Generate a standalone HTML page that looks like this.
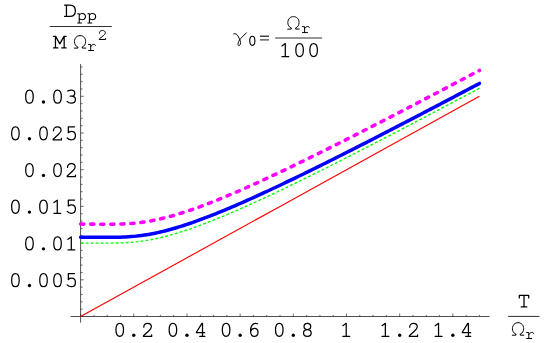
<!DOCTYPE html>
<html><head><meta charset="utf-8"><style>
html,body{margin:0;padding:0;background:#fff;}
svg{display:block;}
</style></head><body>
<svg width="554" height="343" viewBox="0 0 554 343">
<rect width="554" height="343" fill="#fff"/>
<g stroke="#303030" stroke-width="0.85" fill="none">
<path d="M70.5,316.50 H489.6 M80.60,322.6 V64"/>
<path d="M80.60,316.50 v-3.00 M93.89,316.50 v-1.60 M107.19,316.50 v-1.60 M120.48,316.50 v-1.60 M133.78,316.50 v-3.00 M147.07,316.50 v-1.60 M160.37,316.50 v-1.60 M173.66,316.50 v-1.60 M186.96,316.50 v-3.00 M200.25,316.50 v-1.60 M213.55,316.50 v-1.60 M226.84,316.50 v-1.60 M240.14,316.50 v-3.00 M253.43,316.50 v-1.60 M266.73,316.50 v-1.60 M280.02,316.50 v-1.60 M293.32,316.50 v-3.00 M306.62,316.50 v-1.60 M319.91,316.50 v-1.60 M333.20,316.50 v-1.60 M346.50,316.50 v-3.00 M359.79,316.50 v-1.60 M373.09,316.50 v-1.60 M386.38,316.50 v-1.60 M399.68,316.50 v-3.00 M412.98,316.50 v-1.60 M426.27,316.50 v-1.60 M439.56,316.50 v-1.60 M452.86,316.50 v-3.00 M466.15,316.50 v-1.60 M479.45,316.50 v-1.60 M80.60,316.50 h3.20 M80.60,309.16 h2.00 M80.60,301.82 h2.00 M80.60,294.48 h2.00 M80.60,287.14 h2.00 M80.60,279.80 h3.20 M80.60,272.46 h2.00 M80.60,265.12 h2.00 M80.60,257.78 h2.00 M80.60,250.44 h2.00 M80.60,243.10 h3.20 M80.60,235.76 h2.00 M80.60,228.42 h2.00 M80.60,221.08 h2.00 M80.60,213.74 h2.00 M80.60,206.40 h3.20 M80.60,199.06 h2.00 M80.60,191.72 h2.00 M80.60,184.38 h2.00 M80.60,177.04 h2.00 M80.60,169.70 h3.20 M80.60,162.36 h2.00 M80.60,155.02 h2.00 M80.60,147.68 h2.00 M80.60,140.34 h2.00 M80.60,133.00 h3.20 M80.60,125.66 h2.00 M80.60,118.32 h2.00 M80.60,110.98 h2.00 M80.60,103.64 h2.00 M80.60,96.30 h3.20 M80.60,88.96 h2.00 M80.60,81.62 h2.00 M80.60,74.28 h2.00 M80.60,66.94 h2.00" stroke-width="0.7"/>
<path d="M49.8,26.5 H111.8 M275.2,38.0 H322.2 M508.1,316.4 H539.4" stroke-width="1"/>
</g>
<path d="M80.60,316.50 L280.02,206.40 L479.45,96.30" stroke="#ff0000" stroke-width="1.15" fill="none"/>
<path d="M80.60,243.10 L83.26,243.10 L85.92,243.10 L88.58,243.10 L91.24,243.10 L93.89,243.10 L96.55,243.10 L99.21,243.10 L101.87,243.10 L104.53,243.10 L107.19,243.09 L109.85,243.08 L112.51,243.06 L115.17,243.03 L117.83,242.98 L120.48,242.91 L123.14,242.82 L125.80,242.69 L128.46,242.53 L131.12,242.34 L133.78,242.10 L136.44,241.83 L139.10,241.52 L141.76,241.18 L144.42,240.79 L147.07,240.36 L149.73,239.90 L152.39,239.39 L155.05,238.85 L157.71,238.28 L160.37,237.67 L163.03,237.03 L165.69,236.35 L168.35,235.65 L171.01,234.92 L173.66,234.16 L176.32,233.37 L178.98,232.55 L181.64,231.72 L184.30,230.86 L186.96,229.97 L189.62,229.07 L192.28,228.14 L194.94,227.20 L197.60,226.24 L200.25,225.26 L202.91,224.26 L205.57,223.25 L208.23,222.22 L210.89,221.18 L213.55,220.12 L216.21,219.05 L218.87,217.97 L221.53,216.88 L224.19,215.77 L226.84,214.65 L229.50,213.53 L232.16,212.39 L234.82,211.24 L237.48,210.08 L240.14,208.92 L242.80,207.74 L245.46,206.56 L248.12,205.37 L250.78,204.17 L253.43,202.96 L256.09,201.75 L258.75,200.53 L261.41,199.30 L264.07,198.07 L266.73,196.83 L269.39,195.59 L272.05,194.34 L274.71,193.08 L277.37,191.82 L280.02,190.55 L282.68,189.28 L285.34,188.01 L288.00,186.73 L290.66,185.44 L293.32,184.15 L295.98,182.86 L298.64,181.56 L301.30,180.26 L303.96,178.96 L306.62,177.65 L309.27,176.34 L311.93,175.02 L314.59,173.70 L317.25,172.38 L319.91,171.06 L322.57,169.73 L325.23,168.40 L327.89,167.07 L330.55,165.73 L333.20,164.39 L335.86,163.05 L338.52,161.71 L341.18,160.36 L343.84,159.02 L346.50,157.67 L349.16,156.31 L351.82,154.96 L354.48,153.60 L357.14,152.24 L359.79,150.88 L362.45,149.52 L365.11,148.15 L367.77,146.79 L370.43,145.42 L373.09,144.05 L375.75,142.68 L378.41,141.30 L381.07,139.93 L383.73,138.55 L386.38,137.17 L389.04,135.79 L391.70,134.41 L394.36,133.03 L397.02,131.65 L399.68,130.26 L402.34,128.88 L405.00,127.49 L407.66,126.10 L410.32,124.71 L412.98,123.32 L415.63,121.92 L418.29,120.53 L420.95,119.13 L423.61,117.74 L426.27,116.34 L428.93,114.94 L431.59,113.54 L434.25,112.14 L436.91,110.74 L439.56,109.34 L442.22,107.94 L444.88,106.53 L447.54,105.13 L450.20,103.72 L452.86,102.32 L455.52,100.91 L458.18,99.50 L460.84,98.09 L463.50,96.68 L466.15,95.27 L468.81,93.86 L471.47,92.45 L474.13,91.03 L476.79,89.62 L479.45,88.20" stroke="#00ff00" stroke-width="1.35" stroke-dasharray="2.9 2.103" fill="none"/>
<path d="M80.60,237.23 L83.26,237.24 L85.92,237.24 L88.58,237.25 L91.24,237.26 L93.89,237.26 L96.55,237.27 L99.21,237.28 L101.87,237.29 L104.53,237.29 L107.19,237.29 L109.85,237.29 L112.51,237.28 L115.17,237.26 L117.83,237.21 L120.48,237.15 L123.14,237.06 L125.80,236.94 L128.46,236.79 L131.12,236.60 L133.78,236.38 L136.44,236.12 L139.10,235.81 L141.76,235.47 L144.42,235.09 L147.07,234.67 L149.73,234.21 L152.39,233.72 L155.05,233.19 L157.71,232.62 L160.37,232.02 L163.03,231.38 L165.69,230.72 L168.35,230.02 L171.01,229.29 L173.66,228.54 L176.32,227.76 L178.98,226.95 L181.64,226.12 L184.30,225.27 L186.96,224.39 L189.62,223.50 L192.28,222.58 L194.94,221.64 L197.60,220.69 L200.25,219.72 L202.91,218.73 L205.57,217.72 L208.23,216.70 L210.89,215.67 L213.55,214.62 L216.21,213.56 L218.87,212.48 L221.53,211.39 L224.19,210.30 L226.84,209.19 L229.50,208.07 L232.16,206.93 L234.82,205.79 L237.48,204.64 L240.14,203.49 L242.80,202.32 L245.46,201.14 L248.12,199.96 L250.78,198.77 L253.43,197.57 L256.09,196.36 L258.75,195.15 L261.41,193.93 L264.07,192.70 L266.73,191.47 L269.39,190.24 L272.05,188.99 L274.71,187.74 L277.37,186.49 L280.02,185.23 L282.68,183.97 L285.34,182.70 L288.00,181.43 L290.66,180.15 L293.32,178.87 L295.98,177.58 L298.64,176.29 L301.30,175.00 L303.96,173.70 L306.62,172.40 L309.27,171.10 L311.93,169.79 L314.59,168.48 L317.25,167.16 L319.91,165.85 L322.57,164.53 L325.23,163.20 L327.89,161.88 L330.55,160.55 L333.20,159.22 L335.86,157.89 L338.52,156.55 L341.18,155.21 L343.84,153.87 L346.50,152.53 L349.16,151.18 L351.82,149.84 L354.48,148.49 L357.14,147.13 L359.79,145.78 L362.45,144.42 L365.11,143.07 L367.77,141.71 L370.43,140.35 L373.09,138.98 L375.75,137.62 L378.41,136.25 L381.07,134.89 L383.73,133.52 L386.38,132.15 L389.04,130.77 L391.70,129.40 L394.36,128.02 L397.02,126.65 L399.68,125.27 L402.34,123.89 L405.00,122.51 L407.66,121.13 L410.32,119.75 L412.98,118.36 L415.63,116.98 L418.29,115.59 L420.95,114.20 L423.61,112.81 L426.27,111.42 L428.93,110.03 L431.59,108.64 L434.25,107.25 L436.91,105.85 L439.56,104.46 L442.22,103.06 L444.88,101.67 L447.54,100.27 L450.20,98.87 L452.86,97.47 L455.52,96.07 L458.18,94.67 L460.84,93.27 L463.50,91.87 L466.15,90.46 L468.81,89.06 L471.47,87.65 L474.13,86.25 L476.79,84.84 L479.45,83.43" stroke="#0000ff" stroke-width="3.5" stroke-linecap="round" fill="none"/>
<path d="M80.60,224.09 L83.26,224.10 L85.92,224.11 L88.58,224.11 L91.24,224.12 L93.89,224.13 L96.55,224.14 L99.21,224.15 L101.87,224.15 L104.53,224.16 L107.19,224.16 L109.85,224.16 L112.51,224.15 L115.17,224.13 L117.83,224.09 L120.48,224.02 L123.14,223.93 L125.80,223.82 L128.46,223.67 L131.12,223.48 L133.78,223.26 L136.44,222.99 L139.10,222.69 L141.76,222.35 L144.42,221.97 L147.07,221.55 L149.73,221.09 L152.39,220.60 L155.05,220.07 L157.71,219.50 L160.37,218.90 L163.03,218.27 L165.69,217.60 L168.35,216.91 L171.01,216.18 L173.66,215.43 L176.32,214.65 L178.98,213.84 L181.64,213.01 L184.30,212.16 L186.96,211.28 L189.62,210.39 L192.28,209.47 L194.94,208.54 L197.60,207.58 L200.25,206.61 L202.91,205.62 L205.57,204.62 L208.23,203.60 L210.89,202.56 L213.55,201.52 L216.21,200.45 L218.87,199.38 L221.53,198.29 L224.19,197.20 L226.84,196.09 L229.50,194.97 L232.16,193.84 L234.82,192.70 L237.48,191.55 L240.14,190.39 L242.80,189.22 L245.46,188.05 L248.12,186.87 L250.78,185.67 L253.43,184.48 L256.09,183.27 L258.75,182.06 L261.41,180.84 L264.07,179.62 L266.73,178.39 L269.39,177.15 L272.05,175.91 L274.71,174.66 L277.37,173.41 L280.02,172.15 L282.68,170.88 L285.34,169.62 L288.00,168.34 L290.66,167.07 L293.32,165.79 L295.98,164.50 L298.64,163.21 L301.30,161.92 L303.96,160.62 L306.62,159.32 L309.27,158.02 L311.93,156.71 L314.59,155.40 L317.25,154.09 L319.91,152.78 L322.57,151.46 L325.23,150.13 L327.89,148.81 L330.55,147.48 L333.20,146.15 L335.86,144.82 L338.52,143.48 L341.18,142.15 L343.84,140.80 L346.50,139.46 L349.16,138.12 L351.82,136.77 L354.48,135.42 L357.14,134.07 L359.79,132.72 L362.45,131.36 L365.11,130.01 L367.77,128.65 L370.43,127.29 L373.09,125.93 L375.75,124.56 L378.41,123.20 L381.07,121.83 L383.73,120.46 L386.38,119.09 L389.04,117.72 L391.70,116.35 L394.36,114.97 L397.02,113.60 L399.68,112.22 L402.34,110.84 L405.00,109.46 L407.66,108.08 L410.32,106.70 L412.98,105.31 L415.63,103.93 L418.29,102.54 L420.95,101.16 L423.61,99.77 L426.27,98.38 L428.93,96.99 L431.59,95.60 L434.25,94.21 L436.91,92.81 L439.56,91.42 L442.22,90.02 L444.88,88.63 L447.54,87.23 L450.20,85.83 L452.86,84.44 L455.52,83.04 L458.18,81.64 L460.84,80.23 L463.50,78.83 L466.15,77.43 L468.81,76.03 L471.47,74.62 L474.13,73.22 L476.79,71.81 L479.45,70.40" stroke="#ff00ff" stroke-width="3.55" stroke-dasharray="3.2 6.855" stroke-linecap="round" fill="none"/>
<g fill="none" stroke="#000" stroke-linecap="round" stroke-linejoin="round">
<path d="M119.74,323.30 C117.43,323.30 115.97,325.80 115.97,329.84 C115.97,333.88 117.43,336.38 119.74,336.38 C122.05,336.38 123.51,333.88 123.51,329.84 C123.51,325.80 122.05,323.30 119.74,323.30 Z" stroke-width="1.25"/>
<circle cx="133.78" cy="335.22" r="1.68" fill="#000" stroke="none"/>
<path d="M143.77,327.19 C143.77,324.95 145.49,323.30 147.62,323.30 C149.75,323.30 151.37,324.74 151.37,326.76 C151.37,328.37 150.25,329.54 148.63,331.04 L143.46,335.73 L143.46,336.38 L151.67,336.38 L151.67,334.88" stroke-width="1.25"/>
<path d="M172.92,323.30 C170.61,323.30 169.15,325.80 169.15,329.84 C169.15,333.88 170.61,336.38 172.92,336.38 C175.23,336.38 176.69,333.88 176.69,329.84 C176.69,325.80 175.23,323.30 172.92,323.30 Z" stroke-width="1.25"/>
<circle cx="186.96" cy="335.22" r="1.68" fill="#000" stroke="none"/>
<path d="M202.53,336.38 L202.53,323.30 L201.92,323.30 L196.42,332.21 L196.42,332.64 L204.76,332.64 M199.78,336.38 L204.76,336.38" stroke-width="1.25"/>
<path d="M226.10,323.30 C223.79,323.30 222.33,325.80 222.33,329.84 C222.33,333.88 223.79,336.38 226.10,336.38 C228.41,336.38 229.87,333.88 229.87,329.84 C229.87,325.80 228.41,323.30 226.10,323.30 Z" stroke-width="1.25"/>
<circle cx="240.14" cy="335.22" r="1.68" fill="#000" stroke="none"/>
<path d="M257.58,323.77 C256.78,323.45 256.08,323.30 255.38,323.30 C252.58,323.30 250.58,326.12 250.58,330.72 C250.58,334.35 252.08,336.38 254.38,336.38 C256.38,336.38 257.98,334.71 257.98,332.27 C257.98,329.97 256.38,328.30 254.42,328.30 C252.68,328.30 251.18,329.54 250.62,331.36" stroke-width="1.25"/>
<path d="M279.28,323.30 C276.97,323.30 275.51,325.80 275.51,329.84 C275.51,333.88 276.97,336.38 279.28,336.38 C281.59,336.38 283.05,333.88 283.05,329.84 C283.05,325.80 281.59,323.30 279.28,323.30 Z" stroke-width="1.25"/>
<circle cx="293.32" cy="335.22" r="1.68" fill="#000" stroke="none"/>
<path d="M307.36,323.30 C305.45,323.30 304.04,324.63 304.04,326.44 C304.04,328.26 305.45,329.54 307.36,329.54 C309.27,329.54 310.68,328.26 310.68,326.44 C310.68,324.63 309.27,323.30 307.36,323.30 Z M307.36,329.54 C305.25,329.54 303.54,330.93 303.54,332.96 C303.54,334.99 305.25,336.38 307.36,336.38 C309.47,336.38 311.18,334.99 311.18,332.96 C311.18,330.93 309.47,329.54 307.36,329.54 Z" stroke-width="1.25"/>
<path d="M342.88,325.70 L346.22,323.30 L346.22,336.38 M342.88,336.38 L349.68,336.38" stroke-width="1.25"/>
<path d="M382.02,325.70 L385.36,323.30 L385.36,336.38 M382.02,336.38 L388.82,336.38" stroke-width="1.25"/>
<circle cx="399.68" cy="335.22" r="1.68" fill="#000" stroke="none"/>
<path d="M409.66,327.19 C409.66,324.95 411.39,323.30 413.52,323.30 C415.65,323.30 417.27,324.74 417.27,326.76 C417.27,328.37 416.15,329.54 414.53,331.04 L409.36,335.73 L409.36,336.38 L417.57,336.38 L417.57,334.88" stroke-width="1.25"/>
<path d="M435.20,325.70 L438.54,323.30 L438.54,336.38 M435.20,336.38 L442.00,336.38" stroke-width="1.25"/>
<circle cx="452.86" cy="335.22" r="1.68" fill="#000" stroke="none"/>
<path d="M468.43,336.38 L468.43,323.30 L467.82,323.30 L462.32,332.21 L462.32,332.64 L470.66,332.64 M465.68,336.38 L470.66,336.38" stroke-width="1.25"/>
<path d="M15.42,273.60 C13.11,273.60 11.65,276.10 11.65,280.14 C11.65,284.18 13.11,286.68 15.42,286.68 C17.73,286.68 19.19,284.18 19.19,280.14 C19.19,276.10 17.73,273.60 15.42,273.60 Z" stroke-width="1.25"/>
<circle cx="29.46" cy="285.52" r="1.68" fill="#000" stroke="none"/>
<path d="M43.50,273.60 C41.19,273.60 39.73,276.10 39.73,280.14 C39.73,284.18 41.19,286.68 43.50,286.68 C45.81,286.68 47.27,284.18 47.27,280.14 C47.27,276.10 45.81,273.60 43.50,273.60 Z" stroke-width="1.25"/>
<path d="M57.54,273.60 C55.23,273.60 53.77,276.10 53.77,280.14 C53.77,284.18 55.23,286.68 57.54,286.68 C59.85,286.68 61.31,284.18 61.31,280.14 C61.31,276.10 59.85,273.60 57.54,273.60 Z" stroke-width="1.25"/>
<path d="M74.53,273.60 L68.33,273.60 L68.33,279.52 C69.45,278.60 70.46,278.24 71.48,278.24 C73.71,278.24 75.44,279.95 75.44,282.40 C75.44,284.97 73.61,286.68 71.28,286.68 C69.65,286.68 68.23,286.03 67.21,284.80" stroke-width="1.25"/>
<path d="M29.46,236.90 C27.15,236.90 25.69,239.40 25.69,243.44 C25.69,247.48 27.15,249.97 29.46,249.97 C31.77,249.97 33.23,247.48 33.23,243.44 C33.23,239.40 31.77,236.90 29.46,236.90 Z" stroke-width="1.25"/>
<circle cx="43.50" cy="248.82" r="1.68" fill="#000" stroke="none"/>
<path d="M57.54,236.90 C55.23,236.90 53.77,239.40 53.77,243.44 C53.77,247.48 55.23,249.97 57.54,249.97 C59.85,249.97 61.31,247.48 61.31,243.44 C61.31,239.40 59.85,236.90 57.54,236.90 Z" stroke-width="1.25"/>
<path d="M67.96,239.30 L71.30,236.90 L71.30,249.97 M67.96,249.97 L74.76,249.97" stroke-width="1.25"/>
<path d="M15.42,200.20 C13.11,200.20 11.65,202.70 11.65,206.74 C11.65,210.78 13.11,213.28 15.42,213.28 C17.73,213.28 19.19,210.78 19.19,206.74 C19.19,202.70 17.73,200.20 15.42,200.20 Z" stroke-width="1.25"/>
<circle cx="29.46" cy="212.12" r="1.68" fill="#000" stroke="none"/>
<path d="M43.50,200.20 C41.19,200.20 39.73,202.70 39.73,206.74 C39.73,210.78 41.19,213.28 43.50,213.28 C45.81,213.28 47.27,210.78 47.27,206.74 C47.27,202.70 45.81,200.20 43.50,200.20 Z" stroke-width="1.25"/>
<path d="M53.92,202.60 L57.26,200.20 L57.26,213.28 M53.92,213.28 L60.72,213.28" stroke-width="1.25"/>
<path d="M74.53,200.20 L68.33,200.20 L68.33,206.12 C69.45,205.20 70.46,204.84 71.48,204.84 C73.71,204.84 75.44,206.55 75.44,209.00 C75.44,211.57 73.61,213.28 71.28,213.28 C69.65,213.28 68.23,212.63 67.21,211.40" stroke-width="1.25"/>
<path d="M29.46,163.50 C27.15,163.50 25.69,166.00 25.69,170.04 C25.69,174.08 27.15,176.57 29.46,176.57 C31.77,176.57 33.23,174.08 33.23,170.04 C33.23,166.00 31.77,163.50 29.46,163.50 Z" stroke-width="1.25"/>
<circle cx="43.50" cy="175.42" r="1.68" fill="#000" stroke="none"/>
<path d="M57.54,163.50 C55.23,163.50 53.77,166.00 53.77,170.04 C53.77,174.08 55.23,176.57 57.54,176.57 C59.85,176.57 61.31,174.08 61.31,170.04 C61.31,166.00 59.85,163.50 57.54,163.50 Z" stroke-width="1.25"/>
<path d="M67.53,167.39 C67.53,165.15 69.25,163.50 71.38,163.50 C73.51,163.50 75.13,164.94 75.13,166.96 C75.13,168.57 74.01,169.74 72.39,171.24 L67.22,175.93 L67.22,176.57 L75.43,176.57 L75.43,175.08" stroke-width="1.25"/>
<path d="M15.42,126.80 C13.11,126.80 11.65,129.30 11.65,133.34 C11.65,137.38 13.11,139.88 15.42,139.88 C17.73,139.88 19.19,137.38 19.19,133.34 C19.19,129.30 17.73,126.80 15.42,126.80 Z" stroke-width="1.25"/>
<circle cx="29.46" cy="138.72" r="1.68" fill="#000" stroke="none"/>
<path d="M43.50,126.80 C41.19,126.80 39.73,129.30 39.73,133.34 C39.73,137.38 41.19,139.88 43.50,139.88 C45.81,139.88 47.27,137.38 47.27,133.34 C47.27,129.30 45.81,126.80 43.50,126.80 Z" stroke-width="1.25"/>
<path d="M53.48,130.69 C53.48,128.45 55.21,126.80 57.34,126.80 C59.47,126.80 61.09,128.24 61.09,130.26 C61.09,131.87 59.97,133.04 58.35,134.54 L53.18,139.23 L53.18,139.88 L61.39,139.88 L61.39,138.38" stroke-width="1.25"/>
<path d="M74.53,126.80 L68.33,126.80 L68.33,132.72 C69.45,131.80 70.46,131.44 71.48,131.44 C73.71,131.44 75.44,133.15 75.44,135.60 C75.44,138.17 73.61,139.88 71.28,139.88 C69.65,139.88 68.23,139.23 67.21,138.00" stroke-width="1.25"/>
<path d="M29.46,90.10 C27.15,90.10 25.69,92.60 25.69,96.64 C25.69,100.68 27.15,103.18 29.46,103.18 C31.77,103.18 33.23,100.68 33.23,96.64 C33.23,92.60 31.77,90.10 29.46,90.10 Z" stroke-width="1.25"/>
<circle cx="43.50" cy="102.02" r="1.68" fill="#000" stroke="none"/>
<path d="M57.54,90.10 C55.23,90.10 53.77,92.60 53.77,96.64 C53.77,100.68 55.23,103.18 57.54,103.18 C59.85,103.18 61.31,100.68 61.31,96.64 C61.31,92.60 59.85,90.10 57.54,90.10 Z" stroke-width="1.25"/>
<path d="M67.71,91.00 C68.83,90.36 70.05,90.10 71.27,90.10 C73.31,90.10 74.73,91.32 74.73,93.14 C74.73,94.95 73.31,96.13 71.27,96.17 L70.16,96.17 M71.27,96.17 C73.62,96.23 75.45,97.52 75.45,99.54 C75.45,101.68 73.62,103.18 71.27,103.18 C69.65,103.18 68.22,102.58 67.10,101.36" stroke-width="1.25"/>
<path d="M64.56,5.02 L69.91,5.02 C73.16,5.02 75.36,7.19 75.36,10.76 C75.36,14.26 73.16,16.48 69.91,16.48 L64.56,16.48 M66.45,5.02 L66.45,16.48" stroke-width="1.25"/>
<path d="M77.71,13.69 L79.22,13.69 L79.22,23.04 M77.71,23.04 L81.53,23.04 M79.22,15.08 C79.94,14.04 80.96,13.52 82.11,13.52 C83.99,13.52 85.43,14.81 85.43,16.62 C85.43,18.41 83.99,19.72 82.11,19.72 C80.96,19.72 79.94,19.24 79.22,18.22" stroke-width="1.10"/>
<path d="M87.91,13.69 L89.42,13.69 L89.42,23.04 M87.91,23.04 L91.73,23.04 M89.42,15.08 C90.14,14.04 91.16,13.52 92.31,13.52 C94.19,13.52 95.63,14.81 95.63,16.62 C95.63,18.41 94.19,19.72 92.31,19.72 C91.16,19.72 90.14,19.24 89.42,18.22" stroke-width="1.10"/>
<path d="M53.54,36.42 L55.67,36.42 L59.82,43.87 L63.97,36.42 L66.10,36.42 M55.46,36.42 L55.46,47.88 M64.18,36.42 L64.18,47.88 M53.54,47.88 L57.90,47.88 M61.74,47.88 L66.10,47.88" stroke-width="1.25"/>
<path d="M88.55,44.54 L90.71,44.54 L90.71,50.50 M88.55,50.50 L93.60,50.50 M90.71,46.46 C91.65,45.04 92.88,44.37 93.88,44.37 C94.68,44.37 95.40,44.76 95.47,45.39" stroke-width="1.00"/>
<path d="M99.39,33.11 C99.39,31.55 100.73,30.40 102.39,30.40 C104.05,30.40 105.32,31.40 105.32,32.81 C105.32,33.93 104.45,34.74 103.18,35.78 L99.15,39.05 L99.15,39.50 L105.56,39.50 L105.56,38.46" stroke-width="1.00"/>
<path d="M252.34,36.29 C250.76,36.29 249.76,38.04 249.76,40.86 C249.76,43.68 250.76,45.42 252.34,45.42 C253.92,45.42 254.92,43.68 254.92,40.86 C254.92,38.04 253.92,36.29 252.34,36.29 Z" stroke-width="1.15"/>
<path d="M302.45,26.64 L304.61,26.64 L304.61,32.60 M302.45,32.60 L307.50,32.60 M304.61,28.56 C305.55,27.14 306.78,26.47 307.78,26.47 C308.58,26.47 309.30,26.86 309.37,27.49" stroke-width="1.00"/>
<path d="M281.94,45.90 L285.28,43.50 L285.28,56.58 M281.94,56.58 L288.74,56.58" stroke-width="1.25"/>
<path d="M299.60,43.50 C297.29,43.50 295.83,46.00 295.83,50.04 C295.83,54.08 297.29,56.58 299.60,56.58 C301.91,56.58 303.37,54.08 303.37,50.04 C303.37,46.00 301.91,43.50 299.60,43.50 Z" stroke-width="1.25"/>
<path d="M313.64,43.50 C311.33,43.50 309.87,46.00 309.87,50.04 C309.87,54.08 311.33,56.58 313.64,56.58 C315.95,56.58 317.41,54.08 317.41,50.04 C317.41,46.00 315.95,43.50 313.64,43.50 Z" stroke-width="1.25"/>
<path d="M519.31,297.91 L519.31,295.42 L528.73,295.42 L528.73,297.91 M524.02,295.42 L524.02,306.88 M521.23,306.88 L526.81,306.88" stroke-width="1.25"/>
<path d="M526.65,332.54 L528.81,332.54 L528.81,338.50 M526.65,338.50 L531.70,338.50 M528.81,334.46 C529.75,333.04 530.98,332.37 531.98,332.37 C532.78,332.37 533.50,332.75 533.57,333.39" stroke-width="1.00"/>
<g transform="translate(73.90,35.10)"><path d="M3.9,12.1 C1.6,10.8 0.55,8.9 0.55,6.5 C0.55,2.9 2.9,0.5 6.15,0.5 C9.4,0.5 11.75,2.9 11.75,6.5 C11.75,8.9 10.7,10.8 8.4,12.1" stroke-width="1.0"/><path d="M0.4,13.0 H3.9 V12.1 M11.9,13.0 H8.4 V12.1" stroke-width="1.0"/></g>
<g transform="translate(287.30,16.10)"><path d="M3.9,12.1 C1.6,10.8 0.55,8.9 0.55,6.5 C0.55,2.9 2.9,0.5 6.15,0.5 C9.4,0.5 11.75,2.9 11.75,6.5 C11.75,8.9 10.7,10.8 8.4,12.1" stroke-width="1.0"/><path d="M0.4,13.0 H3.9 V12.1 M11.9,13.0 H8.4 V12.1" stroke-width="1.0"/></g>
<g transform="translate(511.90,322.20)"><path d="M3.9,12.1 C1.6,10.8 0.55,8.9 0.55,6.5 C0.55,2.9 2.9,0.5 6.15,0.5 C9.4,0.5 11.75,2.9 11.75,6.5 C11.75,8.9 10.7,10.8 8.4,12.1" stroke-width="1.0"/><path d="M0.4,13.0 H3.9 V12.1 M11.9,13.0 H8.4 V12.1" stroke-width="1.0"/></g>
<path d="M233.7,33.8 C235.5,33.2 237,34.2 238,36 C239.2,38.2 241.4,42.3 240.3,44.3 C239.6,45.9 238.3,46 238.0,44.6 C237.7,42.8 239.2,40.3 240.8,38.4 L246.3,32.9" stroke-width="0.95"/>
<path d="M259.9,36.2 H269.0 M259.9,39.9 H269.0" stroke="#444" stroke-width="1.35" stroke-linecap="butt"/>
</g>
</svg>
</body></html>
